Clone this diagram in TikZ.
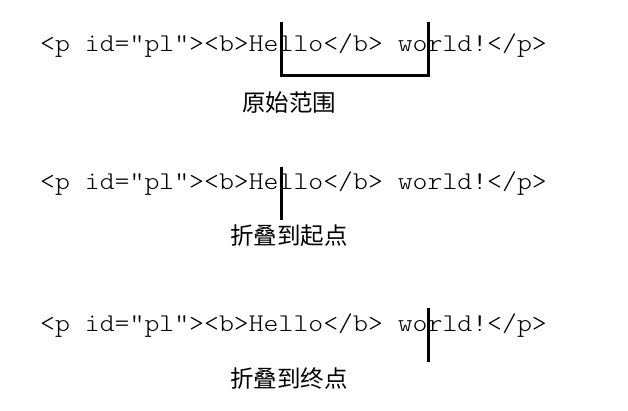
\documentclass[tikz,border=0pt]{standalone}
\usepackage{fontspec}
\newfontfamily\cjk{Noto Sans CJK SC}
\tikzset{
  codetext/.style={anchor=base west, inner sep=0pt, font=\fontsize{25.5}{30}\ttfamily\fontseries{l}\selectfont},
  cjklabel/.style={anchor=center, inner sep=0pt, font=\fontsize{23.5}{28}\cjk},
  caretline/.style={line width=3pt, black},
}
\newcommand{\codeline}{\scalebox{1.113}[1]{<p id="pl"><b>Hello</b> world!</p>}}
\begin{document}
\begin{tikzpicture}[x=1pt,y=-1pt]
\useasboundingbox (0,0) rectangle (628,410);
% line 1
\node[codetext] (t1) at (40,51) {\codeline};
\coordinate (b1) at (281.7,21.7);
\coordinate (b2) at (428,21.7);
\draw[caretline] (b1) -- (281.7,75) -- (428,75) -- (b2);
\node[cjklabel] (c1) at (289,102.5) {原始范围};
% line 2
\node[codetext] (t2) at (40,189) {\codeline};
\coordinate (s1) at (281.7,166.7);
\coordinate (s2) at (281.7,220);
\draw[caretline] (s1) -- (s2);
\node[cjklabel] (c2) at (289,236) {折叠到起点};
% line 3
\node[codetext] (t3) at (40,331) {\codeline};
\coordinate (e1) at (428,308);
\coordinate (e2) at (428,362);
\draw[caretline] (e1) -- (e2);
\node[cjklabel] (c3) at (289,379) {折叠到终点};
\end{tikzpicture}
\end{document}
